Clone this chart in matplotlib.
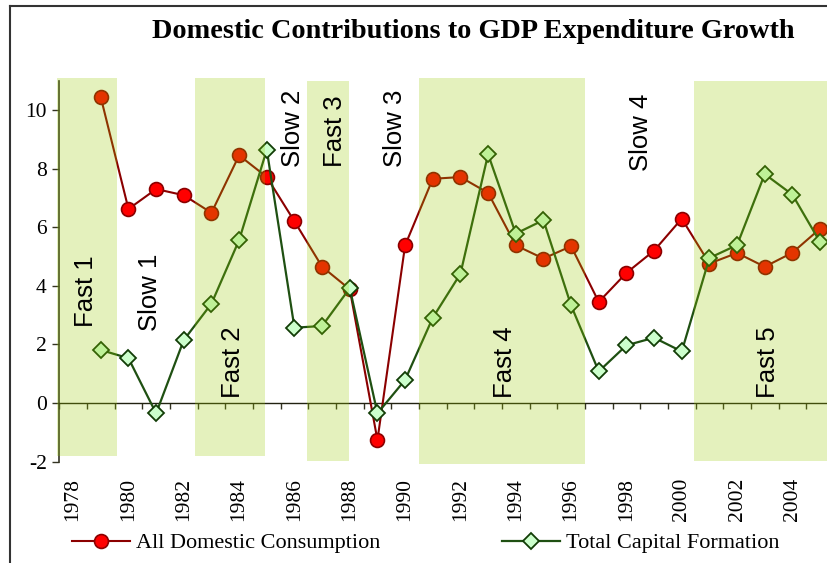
import matplotlib.pyplot as plt
from matplotlib.patches import Rectangle
from matplotlib.lines import Line2D
import numpy as np

years = list(range(1978, 2006))
consumption = [np.nan, 10.43, 6.62, 7.30, 7.09, 6.49, 8.45, 7.71, 6.20, 4.65,
               3.88, -1.26, 5.38, 7.65, 7.71, 7.17, 5.38, 4.93, 5.35, 3.45,
               4.44, 5.20, 6.29, 4.76, 5.12, 4.65, 5.13, 5.95]
capital = [np.nan, 1.81, 1.53, -0.35, 2.15, 3.39, 5.56, 8.64, 2.57, 2.63,
           3.92, -0.35, 0.79, 2.91, 4.41, 8.49, 5.78, 6.24, 3.33, 1.08,
           1.97, 2.23, 1.76, 4.95, 5.39, 7.81, 7.11, 5.49]

# shaded "fast" phases: start, end, bottom, top (in year / value units)
fast_start = [1977.4, 1982.4, 1986.45, 1990.5, 2000.45]
fast_end = [1979.6, 1984.92, 1987.96, 1996.5, 2006.0]
fast_bottom = [-1.8, -1.8, -1.96, -2.07, -1.96]
fast_top = [11.1, 11.1, 11.0, 11.1, 11.0]

phase_names = ['Fast 1', 'Slow 1', 'Fast 2', 'Slow 2', 'Fast 3', 'Slow 3',
               'Fast 4', 'Slow 4', 'Fast 5']
phase_x = [1978.45, 1980.77, 1983.77, 1985.94, 1987.45, 1989.62, 1993.6,
           1998.54, 2003.1]
phase_y = [2.6, 2.45, 0.17, 8.06, 8.06, 8.06, 0.17, 7.9, 0.17]

plt.rcParams['font.family'] = 'Liberation Serif'
plt.rcParams['axes.unicode_minus'] = False
sans = 'Liberation Sans'

fig = plt.figure(figsize=(8.28, 5.63), dpi=100)
W, H = 828, 563
ax = fig.add_axes([59.3 / W, (H - 461.7) / H, (833.9 - 59.3) / W, (461.7 - 80.6) / H])

ax.plot(years, consumption, color='#8B0000', lw=1.5, marker='o', ms=10,
        mfc='#FF0000', mec='#8B0000', mew=1.2, zorder=3,
        label='All Domestic Consumption')
ax.plot(years, capital, color='#1F5012', lw=1.6, marker='D', ms=8.5,
        mfc='#CCFFCC', mec='#123D06', mew=1.3, zorder=3,
        label='Total Capital Formation')

for s, e, b, t in zip(fast_start, fast_end, fast_bottom, fast_top):
    ax.add_patch(Rectangle((s, b), e - s, t - b, facecolor='#99CC00',
                           alpha=0.26, edgecolor='none', zorder=4, clip_on=False))

for name, x, y in zip(phase_names, phase_x, phase_y):
    ax.text(x, y, name, rotation=90, ha='center', va='bottom',
            family=sans, fontsize=18.5, zorder=5)

ax.set_xlim(1977.5, 2005.5)
ax.set_ylim(-2, 11)

for side in ['top', 'right']:
    ax.spines[side].set_visible(False)
ax.spines['left'].set_color('#333322')
ax.spines['left'].set_linewidth(1.2)
ax.spines['bottom'].set_position(('data', 0))
ax.spines['bottom'].set_color('#222211')
ax.spines['bottom'].set_linewidth(1.0)

ax.set_yticks(range(-2, 11, 2))
ax.set_xticks(range(1978, 2006, 2))
ax.set_xticks(np.arange(1977.5, 2005.6, 1), minor=True)
ax.tick_params(axis='x', which='major', length=0, pad=54, rotation=90,
               labelsize=15.5)
ax.tick_params(axis='x', which='minor', length=4, direction='out',
               color='#333322', width=1.0)
ax.tick_params(axis='y', length=5, direction='out', color='#333322',
               width=1.0, pad=4, labelsize=15.5)

fig.text(473 / W, 1 - 32 / H, 'Domestic Contributions to GDP Expenditure Growth',
         ha='center', va='center', fontweight='bold', fontsize=20.3)

# legends placed separately, as in the original layout
h1, h2 = ax.get_legend_handles_labels()[0]
leg_kw = dict(frameon=False, borderpad=0, borderaxespad=0, handlelength=2.6,
              handletextpad=0.3, prop={'size': 16}, loc='center left')
leg1 = fig.legend([h1], ['All Domestic Consumption'],
                  bbox_to_anchor=(72 / W, 1 - 543 / H), **leg_kw)
leg2 = fig.legend([h2], ['Total Capital Formation'],
                  bbox_to_anchor=(502 / W, 1 - 543 / H), **leg_kw)

# outer chart border (only left and top edges visible in the crop)
fig.add_artist(Line2D([10 / W, 10 / W], [0, 1 - 6 / H], color='#333333', lw=1.5))
fig.add_artist(Line2D([10 / W, 1], [1 - 6 / H, 1 - 6 / H], color='#333333', lw=1.5))

fig.savefig('out.png', dpi=100)
